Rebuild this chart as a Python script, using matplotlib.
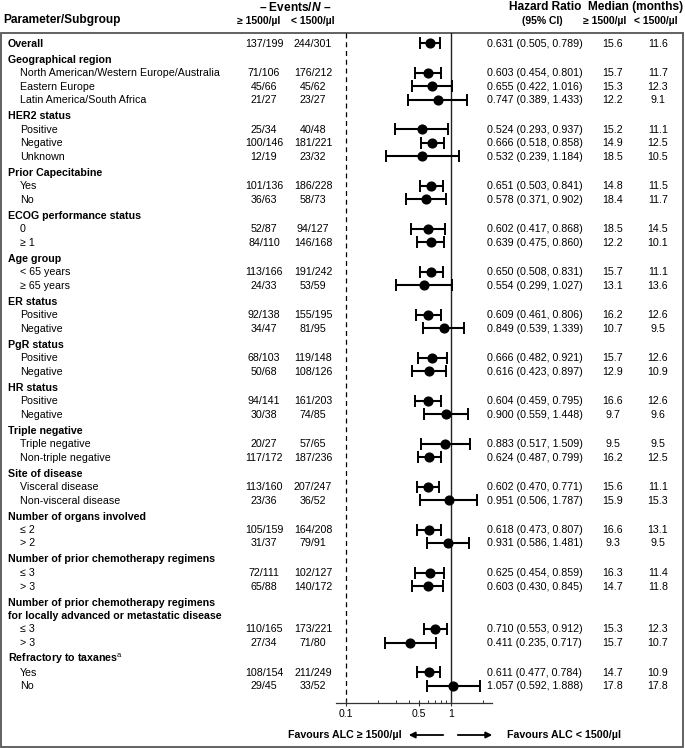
import matplotlib
matplotlib.use('Agg')
import matplotlib.pyplot as plt
import numpy as np
from matplotlib.patches import Rectangle
from matplotlib.ticker import FixedLocator, NullFormatter, FixedFormatter

plt.rcParams['font.family'] = ['Liberation Sans', 'DejaVu Sans']
plt.rcParams['mathtext.fontset'] = 'custom'
plt.rcParams['mathtext.it'] = 'Liberation Sans:italic:bold'
plt.rcParams['mathtext.rm'] = 'Liberation Sans'
plt.rcParams['mathtext.bf'] = 'Liberation Sans:bold'

# ---------------- data ----------------
group_titles = [
    None,
    'Geographical region',
    'HER2 status',
    'Prior Capecitabine',
    'ECOG performance status',
    'Age group',
    'ER status',
    'PgR status',
    'HR status',
    'Triple negative',
    'Site of disease',
    'Number of organs involved',
    'Number of prior chemotherapy regimens',
    'Number of prior chemotherapy regimens\nfor locally advanced or metastatic disease',
    'Refractory to taxanes$^{\\mathrm{a}}$',
]
group_sizes = [1, 3, 3, 2, 2, 2, 2, 2, 2, 2, 2, 2, 2, 2, 2]

subgroups = [
    'Overall',
    'North American/Western Europe/Australia', 'Eastern Europe', 'Latin America/South Africa',
    'Positive', 'Negative', 'Unknown',
    'Yes', 'No',
    '0', '≥ 1',
    '< 65 years', '≥ 65 years',
    'Positive', 'Negative',
    'Positive', 'Negative',
    'Positive', 'Negative',
    'Triple negative', 'Non-triple negative',
    'Visceral disease', 'Non-visceral disease',
    '≤ 2', '> 2',
    '≤ 3', '> 3',
    '≤ 3', '> 3',
    'Yes', 'No',
]
events_hi = ['137/199', '71/106', '45/66', '21/27', '25/34', '100/146', '12/19',
             '101/136', '36/63', '52/87', '84/110', '113/166', '24/33',
             '92/138', '34/47', '68/103', '50/68', '94/141', '30/38',
             '20/27', '117/172', '113/160', '23/36', '105/159', '31/37',
             '72/111', '65/88', '110/165', '27/34', '108/154', '29/45']
events_lo = ['244/301', '176/212', '45/62', '23/27', '40/48', '181/221', '23/32',
             '186/228', '58/73', '94/127', '146/168', '191/242', '53/59',
             '155/195', '81/95', '119/148', '108/126', '161/203', '74/85',
             '57/65', '187/236', '207/247', '36/52', '164/208', '79/91',
             '102/127', '140/172', '173/221', '71/80', '211/249', '33/52']
hr = [0.631, 0.603, 0.655, 0.747, 0.524, 0.666, 0.532, 0.651, 0.578, 0.602, 0.639,
      0.650, 0.554, 0.609, 0.849, 0.666, 0.616, 0.604, 0.900, 0.883, 0.624,
      0.602, 0.951, 0.618, 0.931, 0.625, 0.603, 0.710, 0.411, 0.611, 1.057]
ci_lo = [0.505, 0.454, 0.422, 0.389, 0.293, 0.518, 0.239, 0.503, 0.371, 0.417, 0.475,
         0.508, 0.299, 0.461, 0.539, 0.482, 0.423, 0.459, 0.559, 0.517, 0.487,
         0.470, 0.506, 0.473, 0.586, 0.454, 0.430, 0.553, 0.235, 0.477, 0.592]
ci_hi = [0.789, 0.801, 1.016, 1.433, 0.937, 0.858, 1.184, 0.841, 0.902, 0.868, 0.860,
         0.831, 1.027, 0.806, 1.339, 0.921, 0.897, 0.795, 1.448, 1.509, 0.799,
         0.771, 1.787, 0.807, 1.481, 0.859, 0.845, 0.912, 0.717, 0.784, 1.888]
med_hi = ['15.6', '15.7', '15.3', '12.2', '15.2', '14.9', '18.5', '14.8', '18.4', '18.5', '12.2',
          '15.7', '13.1', '16.2', '10.7', '15.7', '12.9', '16.6', '9.7', '9.5', '16.2',
          '15.6', '15.9', '16.6', '9.3', '16.3', '14.7', '15.3', '15.7', '14.7', '17.8']
med_lo = ['11.6', '11.7', '12.3', '9.1', '11.1', '12.5', '10.5', '11.5', '11.7', '14.5', '10.1',
          '11.1', '13.6', '12.6', '9.5', '12.6', '10.9', '12.6', '9.6', '9.5', '12.5',
          '11.1', '15.3', '13.1', '9.5', '11.4', '11.8', '12.3', '10.7', '10.9', '17.8']
major_ticks = [0.1, 0.5, 1]
major_tick_labels = ['0.1', '0.5', '1']
minor_ticks = [0.2, 0.3, 0.4, 0.6, 0.7, 0.8, 0.9, 2]

# ---------------- layout ----------------
W, H = 685, 748
fig = plt.figure(figsize=(W / 100, H / 100), dpi=100)
bg = fig.add_axes([0, 0, 1, 1])
bg.set_xlim(0, W)
bg.set_ylim(H, 0)
bg.axis('off')

ax_top, ax_bot, ax_l, ax_r = 33, 703, 336, 492
ax = fig.add_axes([ax_l / W, 1 - ax_bot / H, (ax_r - ax_l) / W, (ax_bot - ax_top) / H])
ax.patch.set_alpha(0)
ax.set_xscale('log')
ax.set_xlim(0.0803, 2.46)
ax.set_ylim(ax_bot, ax_top)

row_step, group_step = 13.5, 16.0
y = 43.5
data_y, header_y = [], []
for title, n in zip(group_titles, group_sizes):
    if title is not None:
        y += group_step
        lines = title.split('\n')
        header_y.append((y, lines))
        y += row_step * (len(lines) - 1)
        y += row_step
    for j in range(n):
        data_y.append(y)
        y += row_step
    y -= row_step

fs_data = 7.7
fs_group = 7.7
fs_head = 8.6
fs_sub = 7.5

# group headers
for yy, lines in header_y:
    for li, line in enumerate(lines):
        bg.text(8, yy + li * row_step, line, fontsize=fs_group, fontweight='bold',
                va='center', ha='left')

x_ev1, x_ev2, x_hr, x_m1, x_m2 = 264, 313, 487, 613, 658
for i, yy in enumerate(data_y):
    if i == 0:
        bg.text(8, yy, subgroups[i], fontsize=fs_group, fontweight='bold', va='center')
    else:
        bg.text(20, yy, subgroups[i], fontsize=fs_data, va='center')
    bg.text(x_ev1, yy, events_hi[i], fontsize=fs_data, va='center', ha='center')
    bg.text(x_ev2, yy, events_lo[i], fontsize=fs_data, va='center', ha='center')
    bg.text(x_hr, yy, f'{hr[i]:.3f} ({ci_lo[i]:.3f}, {ci_hi[i]:.3f})', fontsize=fs_data,
            va='center', ha='left')
    bg.text(x_m1, yy, med_hi[i], fontsize=fs_data, va='center', ha='center')
    bg.text(x_m2, yy, med_lo[i], fontsize=fs_data, va='center', ha='center')

# column headers
bg.text(3, 20, 'Parameter/Subgroup', fontsize=fs_head, fontweight='bold', va='center')
bg.text(331, 7, '– Events/$\\mathit{N}$ –', fontsize=fs_head, fontweight='bold',
        va='center', ha='right')
bg.text(259, 21, '≥ 1500/µl', fontsize=fs_sub, fontweight='bold', va='center', ha='center')
bg.text(313, 21, '< 1500/µl', fontsize=fs_sub, fontweight='bold', va='center', ha='center')
bg.text(545, 7, 'Hazard Ratio', fontsize=fs_head, fontweight='bold', va='center', ha='center')
bg.text(542, 21, '(95% CI)', fontsize=fs_sub, fontweight='bold', va='center', ha='center')
bg.text(683, 7, 'Median (months)', fontsize=fs_head, fontweight='bold', va='center', ha='right')
bg.text(605, 21, '≥ 1500/µl', fontsize=fs_sub, fontweight='bold', va='center', ha='center')
bg.text(656, 21, '< 1500/µl', fontsize=fs_sub, fontweight='bold', va='center', ha='center')

# border box
bg.add_patch(Rectangle((1, 33), 682.5, 713.5, fill=False, edgecolor='#555555', lw=1.3))

# forest plot
hr_a = np.array(hr); lo_a = np.array(ci_lo); hi_a = np.array(ci_hi)
ax.errorbar(hr_a, data_y, xerr=[hr_a - lo_a, hi_a - hr_a], fmt='o', color='black',
            ms=6.3, elinewidth=1.5, capsize=4.2, capthick=1.4, zorder=3)
ax.axvline(0.1, color='black', lw=0.9, ls=(0, (4, 3)), zorder=1)
ax.axvline(1, color='#222222', lw=1.0, zorder=1)
for s in ['top', 'left', 'right']:
    ax.spines[s].set_visible(False)
ax.spines['bottom'].set_color('#333333')
ax.spines['bottom'].set_linewidth(0.9)
ax.set_yticks([])
ax.xaxis.set_major_locator(FixedLocator(major_ticks))
ax.xaxis.set_major_formatter(FixedFormatter(major_tick_labels))
ax.xaxis.set_minor_locator(FixedLocator(minor_ticks))
ax.xaxis.set_minor_formatter(NullFormatter())
ax.tick_params(axis='x', which='major', direction='inout', length=5, width=0.8,
               labelsize=7.6, pad=1.5, color='#333333')
ax.tick_params(axis='x', which='minor', direction='in', length=2.5, width=0.7, color='#333333')

# favours labels and arrows
bg.text(402, 735, 'Favours ALC ≥ 1500/µl', fontsize=fs_group, fontweight='bold',
        va='center', ha='right')
bg.text(507, 735, 'Favours ALC < 1500/µl', fontsize=fs_group, fontweight='bold',
        va='center', ha='left')
bg.annotate('', xy=(406, 735), xytext=(446, 735),
            arrowprops=dict(arrowstyle='-|>', color='black', lw=1.3, mutation_scale=9))
bg.annotate('', xy=(495, 735), xytext=(455, 735),
            arrowprops=dict(arrowstyle='-|>', color='black', lw=1.3, mutation_scale=9))

fig.savefig('out.png', dpi=100)
